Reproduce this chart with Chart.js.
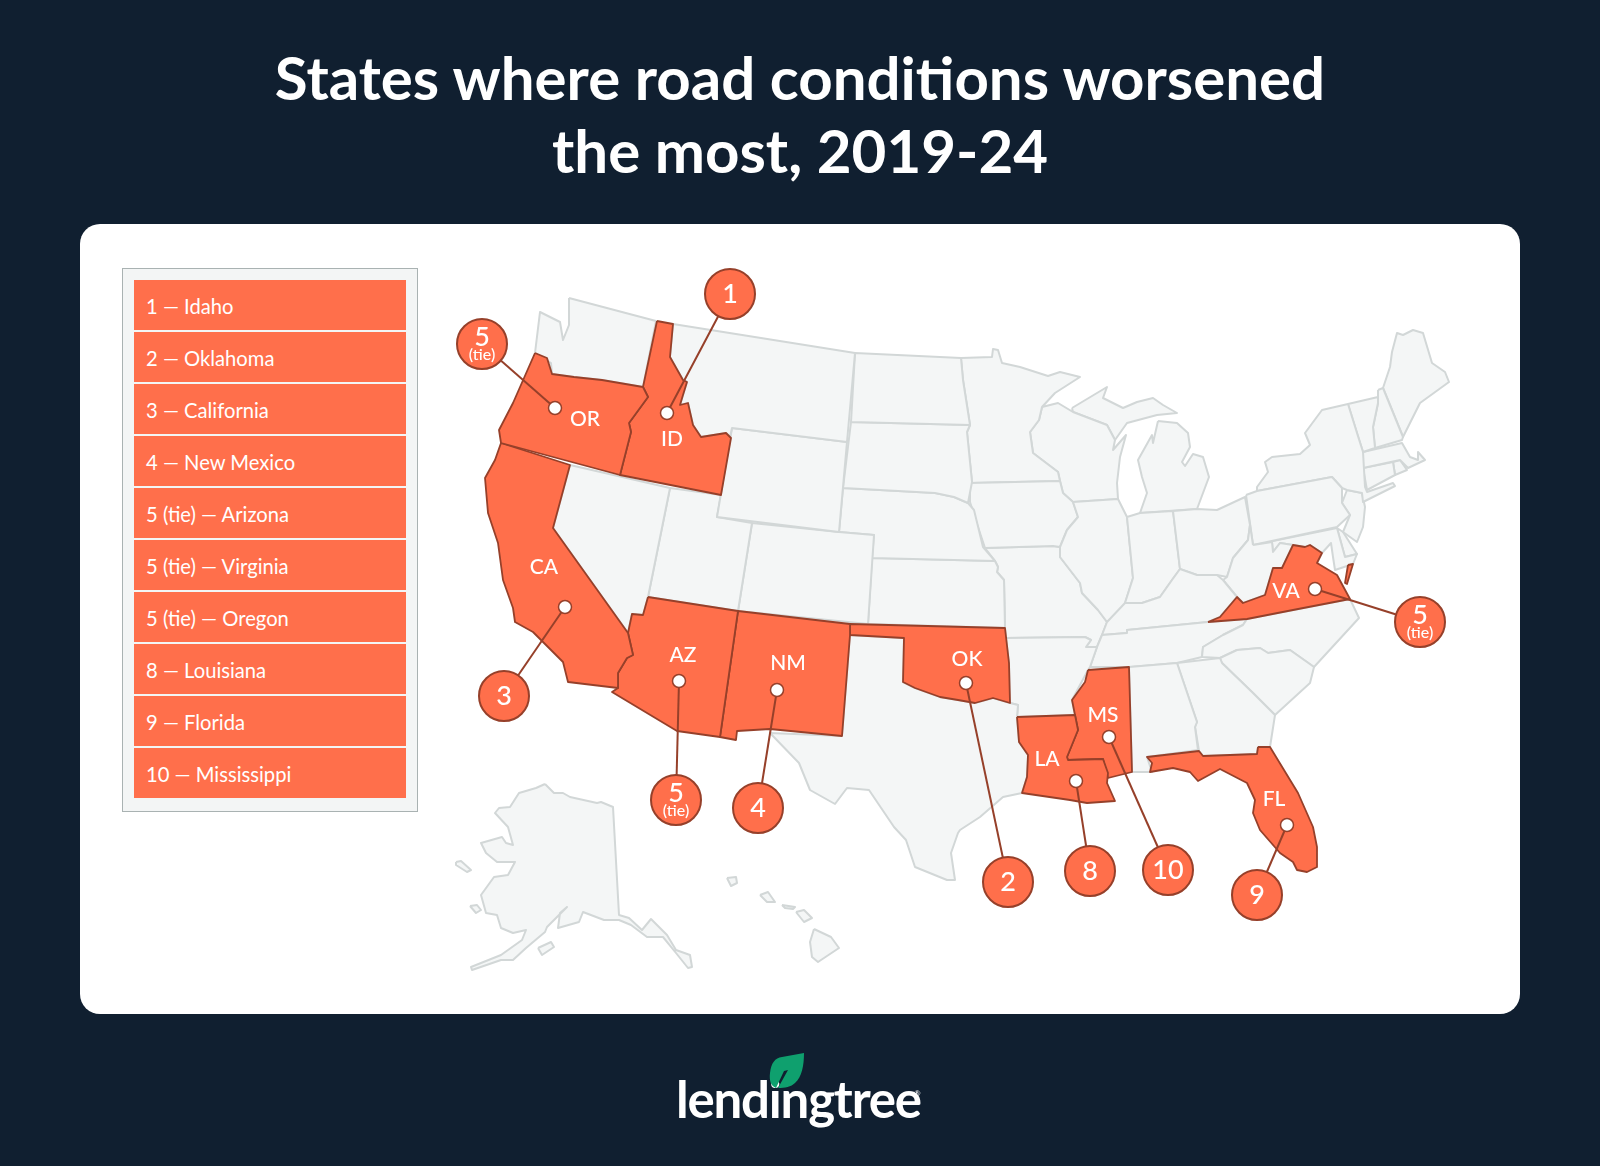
<!DOCTYPE html>
<html>
<head>
<meta charset="utf-8">
<title>States where road conditions worsened the most, 2019-24</title>
<script src="https://cdn.jsdelivr.net/npm/chart.js@4/dist/chart.umd.min.js"></script>
<style>
  html, body { margin: 0; padding: 0; background: #101f30; }
  body { position: relative; width: 1600px; height: 1166px; overflow: hidden; font-family: Lato, sans-serif; }
  #title { position: absolute; left: 0; top: 41px; width: 1600px; margin: 0; text-align: center; color: #fff; font-size: 60px; line-height: 73px; font-weight: 700; }
  #panel { position: absolute; left: 80px; top: 224px; width: 1440px; height: 790px; background: #fff; border-radius: 20px; }
  #ranking { position: absolute; left: 122px; top: 268px; width: 272px; padding: 11px 11px 13px; background: #f3f5f5; border: 1px solid #a9b2b2; }
  .row { height: 50px; margin-bottom: 2px; background: #ff6f4b; color: #fff; font-size: 20.2px; line-height: 53px; padding-left: 12px; }
  .row:last-child { margin-bottom: 0; }
  #map { position: absolute; left: 0; top: 0; }
  #logo { position: absolute; left: 676px; top: 1068px; color: #fff; font-size: 51px; line-height: 62px; font-weight: 700; letter-spacing: -1.2px; }
  #reg { position: absolute; left: 914px; top: 1088px; color: #fff; font-size: 8px; }
  #leaf { position: absolute; left: 769px; top: 1053px; }
</style>
</head>
<body>
<h1 id="title">States where road conditions worsened<br>the most, 2019-24</h1>
<div id="panel"></div>
<div id="ranking"></div>
<canvas id="map" width="1600" height="1166"></canvas>
<div id="logo">lendingtree</div>
<div id="reg">®</div>
<svg id="leaf" width="36" height="36" viewBox="0 0 36 36"><path d="M7 35C2 33 0 28 1 20C2 10 6 5 13 4L35 0C35 12 33 24 26 30C22 34 16 35 9 35L19 17L15 18Z" fill="#0fa06e"/></svg>
<script>
// Ranking (legend list)
const rankLabels = ['1', '2', '3', '4', '5 (tie)', '5 (tie)', '5 (tie)', '8', '9', '10'];
const rankNames = ['Idaho', 'Oklahoma', 'California', 'New Mexico', 'Arizona', 'Virginia', 'Oregon', 'Louisiana', 'Florida', 'Mississippi'];

// Callouts, same order as the ranking
const stateCodes = ['ID', 'OK', 'CA', 'NM', 'AZ', 'VA', 'OR', 'LA', 'FL', 'MS'];
const codeSpots = [[672,439],[967,659],[544,567],[788,663],[683,655],[1286,591],[585,419],[1047,759],[1274,799],[1103,715]];
const dotSpots = [[667,413],[966,683],[565,607],[777,690],[679,681],[1315,589],[555,408],[1076,781],[1287,825],[1109,737]];
const badgeSpots = [[730,294],[1008,882],[504,696],[758,808],[676,800],[1420,622],[482,344],[1090,871],[1257,895],[1168,870]];

// State outlines in map units
const WA = [[569,298],[656,321],[643,387],[602,380],[574,377],[552,374],[551,363],[535,353],[540,312],[560,322],[563,340],[569,325]];
const OR = [[535,353],[547,358],[552,374],[574,377],[602,380],[643,387],[648,397],[629,423],[631,432],[620,475],[501,443],[499,430],[513,403]];
const ID = [[657,321],[673,324],[670,357],[683,380],[687,382],[683,395],[680,405],[688,403],[693,425],[701,437],[726,433],[731,438],[721,495],[620,475],[631,432],[629,423],[648,397],[643,387]];
const MT = [[673,324],[761,338],[855,353],[847,442],[732,428],[730,437],[726,433],[701,437],[693,425],[688,403],[680,405],[683,395],[687,382],[683,380],[670,357]];
const WY = [[732,428],[847,442],[839,532],[717,517]];
const NV = [[570,465],[670,488],[648,597],[643,615],[632,614],[628,633],[553,528]];
const CA = [[501,443],[570,465],[553,528],[628,633],[633,655],[627,658],[618,673],[618,688],[568,682],[563,662],[543,642],[533,632],[515,622],[513,608],[503,580],[498,543],[488,513],[485,478],[495,460]];
const AZ = [[648,597],[738,611],[720,737],[677,731],[612,692],[618,688],[618,673],[627,658],[633,655],[628,633],[632,614],[643,615]];
const NM = [[738,611],[850,624],[850,635],[842,736],[770,729],[737,731],[736,740],[720,737]];
const UT = [[670,488],[721,495],[717,517],[752,523],[738,611],[648,597]];
const CO = [[752,523],[839,532],[874,535],[868,624],[738,611]];
const ND = [[855,353],[961,358],[963,380],[970,425],[851,422]];
const SD = [[851,422],[970,425],[967,432],[972,482],[968,503],[954,497],[935,493],[843,488]];
const NE = [[843,488],[935,493],[954,497],[968,503],[974,510],[983,547],[995,561],[872,558],[874,535],[839,532]];
const KS = [[872,558],[995,561],[998,567],[997,572],[1004,580],[1005,628],[868,624]];
const OK = [[850,624],[1005,628],[1009,663],[1010,703],[993,698],[975,703],[958,700],[940,697],[915,688],[903,682],[904,638],[850,635]];
const TX = [[850,635],[904,638],[903,682],[915,688],[940,697],[958,700],[975,703],[993,698],[1010,703],[1018,705],[1017,717],[1019,742],[1028,755],[1027,777],[1022,793],[1003,797],[980,817],[960,830],[958,833],[951,853],[955,880],[947,880],[915,867],[906,840],[894,827],[869,790],[847,788],[835,804],[810,790],[799,763],[770,733],[842,736]];
const AR = [[1006,638],[1085,637],[1091,640],[1086,647],[1097,647],[1090,667],[1088,670],[1072,700],[1075,715],[1017,717],[1018,705],[1010,703],[1009,663]];
const LA = [[1017,717],[1075,715],[1078,730],[1067,757],[1068,760],[1103,759],[1108,773],[1107,783],[1115,801],[1087,803],[1070,800],[1022,793],[1027,777],[1028,755],[1019,742]];
const MS = [[1088,670],[1129,667],[1132,772],[1108,778],[1103,759],[1068,760],[1067,757],[1078,730],[1075,715],[1072,700],[1085,682]];
const AL = [[1129,667],[1177,663],[1197,722],[1195,727],[1198,750],[1147,757],[1152,772],[1132,772]];
const GA = [[1177,663],[1220,658],[1222,663],[1253,693],[1275,715],[1270,747],[1258,747],[1257,754],[1203,756],[1199,751],[1195,727],[1197,722]];
const FL = [[1258,747],[1270,747],[1298,793],[1313,827],[1317,847],[1317,867],[1307,872],[1297,870],[1293,862],[1280,853],[1260,830],[1253,813],[1255,800],[1247,783],[1220,769],[1198,781],[1190,772],[1173,768],[1150,772],[1152,763],[1147,757],[1199,751],[1203,756],[1257,754]];
const SC = [[1220,658],[1237,650],[1260,648],[1268,653],[1290,650],[1314,667],[1310,683],[1275,715],[1253,693],[1222,663]];
const NC = [[1247,619],[1350,599],[1359,618],[1314,667],[1290,650],[1268,653],[1260,648],[1237,650],[1220,658],[1202,657],[1203,647],[1223,635],[1243,625]];
const TN = [[1208,622],[1247,619],[1243,625],[1223,635],[1203,647],[1202,657],[1177,663],[1130,667],[1090,667],[1097,647],[1102,635],[1127,633],[1127,630]];
const KY = [[1102,635],[1107,622],[1125,603],[1142,603],[1160,597],[1172,580],[1180,569],[1197,575],[1217,575],[1223,580],[1237,597],[1220,617],[1208,622],[1127,630],[1127,633]];
const VA = [[1208,622],[1220,617],[1237,597],[1243,603],[1265,595],[1273,568],[1282,568],[1293,545],[1305,547],[1310,545],[1322,553],[1317,563],[1337,575],[1350,599],[1293,610],[1247,619]];
const VA_SHORE = [[1348,565],[1353,564],[1347,584],[1345,583]];
const WV = [[1253,545],[1250,525],[1248,540],[1233,558],[1227,577],[1223,580],[1237,597],[1243,603],[1265,595],[1273,568],[1282,568],[1293,545],[1280,543],[1273,552],[1272,542]];
const OH = [[1173,511],[1197,509],[1217,510],[1245,497],[1250,525],[1248,540],[1233,558],[1227,577],[1217,575],[1197,575],[1180,569]];
const IN = [[1127,517],[1140,513],[1173,511],[1180,569],[1172,580],[1160,597],[1142,603],[1125,603],[1133,578]];
const IL = [[1073,502],[1118,499],[1127,517],[1133,578],[1125,603],[1123,612],[1107,622],[1098,610],[1082,593],[1080,583],[1060,557],[1060,547],[1067,530],[1078,517]];
const IA = [[970,483],[1060,481],[1063,493],[1073,502],[1078,517],[1067,530],[1060,547],[1053,546],[985,548],[978,527],[970,502]];
const MO = [[985,548],[1053,546],[1060,547],[1060,557],[1080,583],[1082,593],[1098,610],[1107,622],[1102,635],[1097,647],[1086,647],[1091,640],[1085,637],[1006,638],[1005,628],[1004,580],[997,572],[998,567],[995,561]];
const MN = [[961,358],[992,357],[993,349],[998,350],[1002,363],[1020,367],[1048,376],[1060,372],[1080,377],[1055,393],[1042,407],[1039,420],[1030,432],[1033,453],[1058,472],[1060,481],[970,483],[972,482],[967,432],[970,425],[963,380]];
const WI = [[1042,407],[1058,403],[1073,412],[1107,425],[1115,440],[1113,450],[1126,435],[1120,457],[1117,483],[1118,499],[1073,502],[1063,493],[1060,481],[1058,472],[1033,453],[1030,432],[1039,420]];
const MI_UP = [[1072,408],[1107,387],[1103,398],[1123,408],[1137,402],[1153,398],[1163,405],[1177,413],[1157,415],[1127,423],[1115,440],[1107,425],[1073,412]];
const MI_LP = [[1158,421],[1177,423],[1188,433],[1190,447],[1182,462],[1185,466],[1193,454],[1203,457],[1209,477],[1197,509],[1140,513],[1147,493],[1142,477],[1138,460],[1152,435],[1153,443]];
const PA = [[1246,495],[1257,491],[1332,477],[1342,488],[1342,503],[1350,515],[1337,527],[1253,545]];
const NY = [[1257,491],[1257,487],[1268,472],[1265,462],[1272,457],[1300,454],[1310,445],[1305,433],[1322,410],[1348,404],[1357,433],[1363,452],[1365,487],[1367,492],[1393,483],[1395,486],[1363,502],[1362,493],[1347,490],[1342,488],[1332,477]];
const NJ = [[1347,490],[1362,493],[1365,507],[1363,527],[1357,542],[1343,532],[1350,515],[1342,503]];
const MD = [[1253,545],[1337,528],[1345,557],[1357,554],[1353,564],[1335,570],[1333,557],[1331,543],[1322,553],[1310,545],[1305,547],[1293,545],[1280,543],[1273,552],[1272,542]];
const DE = [[1337,528],[1343,532],[1357,554],[1345,557]];
const VT = [[1348,404],[1378,397],[1378,403],[1373,427],[1375,448],[1363,452],[1357,433]];
const NH = [[1378,390],[1383,388],[1403,437],[1402,440],[1375,448],[1373,427],[1378,403]];
const ME = [[1383,388],[1390,367],[1392,352],[1397,333],[1403,335],[1413,330],[1423,333],[1432,363],[1445,372],[1449,382],[1420,403],[1408,427],[1403,437]];
const MA = [[1363,452],[1402,443],[1410,457],[1418,460],[1418,452],[1425,460],[1408,468],[1400,460],[1363,468]];
const CT = [[1363,468],[1393,462],[1395,475],[1367,490]];
const RI = [[1393,462],[1400,460],[1407,470],[1395,475]];
const AK = [[545,784],[554,793],[563,793],[570,797],[597,803],[601,802],[613,807],[619,915],[629,918],[642,930],[651,919],[667,935],[676,950],[690,955],[692,967],[688,968],[676,953],[663,937],[647,937],[631,925],[619,920],[604,920],[583,912],[579,922],[558,928],[560,913],[567,907],[547,927],[545,932],[526,948],[513,960],[501,960],[472,970],[471,967],[501,955],[522,940],[526,930],[513,933],[501,928],[497,915],[486,913],[481,895],[494,877],[508,875],[515,862],[497,862],[486,853],[481,843],[502,837],[506,843],[513,845],[508,827],[495,813],[499,808],[510,807],[519,793],[536,788]];
const AK_LAWRENCE = [[456,862],[461,861],[471,870],[467,872],[456,865]];
const AK_NUNIVAK = [[470,906],[477,905],[481,910],[476,913]];
const AK_KODIAK = [[538,948],[551,942],[554,947],[542,955]];
const HI_KAUAI = [[727,878],[736,877],[737,883],[731,886]];
const HI_OAHU = [[760,895],[768,892],[775,902],[767,902]];
const HI_MOLOKAI = [[782,905],[795,907],[793,909],[785,908]];
const HI_MAUI = [[796,912],[804,910],[812,918],[804,922]];
const HI_BIG = [[814,929],[831,937],[839,948],[818,962],[812,957],[810,942]];

const plainStates = [WA, MT, WY, NV, UT, CO, ND, SD, NE, KS, TX, AR, AL, GA, SC, NC, TN, KY, WV, OH, IN, IL, IA, MO, MN, WI, MI_UP, MI_LP, PA, NY, NJ, MD, DE, VT, NH, ME, MA, CT, RI, AK, AK_LAWRENCE, AK_NUNIVAK, AK_KODIAK, HI_KAUAI, HI_OAHU, HI_MOLOKAI, HI_MAUI, HI_BIG];
const rankedStates = [OR, ID, CA, AZ, NM, OK, LA, MS, FL, VA, VA_SHORE];

const ORANGE = '#ff6f4b';
const BROWN = '#96402a';

// Lista de la izquierda
const ranking = document.querySelector('#ranking');
rankNames.forEach((name, i) => {
    const row = document.createElement('div');
    row.className = 'row';
    row.textContent = `${rankLabels[i]} — ${name}`;
    ranking.appendChild(row);
});

const toPoints = (pairs) => pairs.map(([x, y]) => ({ x, y }));
const closed = (pairs) => toPoints([...pairs, pairs[0]]);

const shape = (pairs, fillColor, lineColor, width, order) => ({
    data: closed(pairs),
    showLine: true,
    fill: 'shape',
    backgroundColor: fillColor,
    borderColor: lineColor,
    borderWidth: width,
    borderJoinStyle: 'round',
    pointRadius: 0,
    tension: 0,
    order
});

const datasets = [];
plainStates.forEach(s => datasets.push(shape(s, '#f4f6f6', '#d2d7d7', 2, 5)));
rankedStates.forEach(s => datasets.push(shape(s, ORANGE, BROWN, 1.8, 4)));
dotSpots.forEach((dot, i) => datasets.push({
    data: toPoints([dot, badgeSpots[i]]),
    showLine: true,
    borderColor: BROWN,
    borderWidth: 2,
    pointRadius: 0,
    order: 3
}));
datasets.push({
    data: toPoints(dotSpots),
    pointRadius: 6.5,
    pointBackgroundColor: '#fff',
    pointBorderColor: BROWN,
    pointBorderWidth: 1.5,
    order: 2
});
datasets.push({
    data: toPoints(badgeSpots),
    pointRadius: 25,
    pointBackgroundColor: ORANGE,
    pointBorderColor: BROWN,
    pointBorderWidth: 2,
    order: 1
});

// Textos del mapa
const mapLabels = {
    id: 'mapLabels',
    afterDatasetsDraw(chart) {
        const { ctx, scales: { x, y } } = chart;
        ctx.save();
        ctx.fillStyle = '#fff';
        ctx.textAlign = 'center';
        ctx.textBaseline = 'middle';
        stateCodes.forEach((code, i) => {
            ctx.font = '500 21px Lato';
            ctx.fillText(code, x.getPixelForValue(codeSpots[i][0]), y.getPixelForValue(codeSpots[i][1]));
            const bx = x.getPixelForValue(badgeSpots[i][0]);
            const by = y.getPixelForValue(badgeSpots[i][1]);
            const tied = rankLabels[i].includes('tie');
            ctx.font = '500 27px Lato';
            ctx.fillText(rankLabels[i].split(' ')[0], bx, tied ? by - 7 : by);
            if (tied) {
                ctx.font = '500 16px Lato';
                ctx.fillText('(tie)', bx, by + 11);
            }
        });
        ctx.restore();
    }
};

new Chart(document.querySelector('#map'), {
    type: 'scatter',
    data: { datasets },
    options: {
        responsive: false,
        animation: false,
        events: [],
        layout: { padding: 0, autoPadding: false },
        plugins: { legend: { display: false }, tooltip: { enabled: false } },
        scales: {
            x: { type: 'linear', display: false, min: 0, max: 1600 },
            y: { type: 'linear', display: false, min: 0, max: 1166, reverse: true }
        }
    },
    plugins: [mapLabels]
});
</script>
</body>
</html>
